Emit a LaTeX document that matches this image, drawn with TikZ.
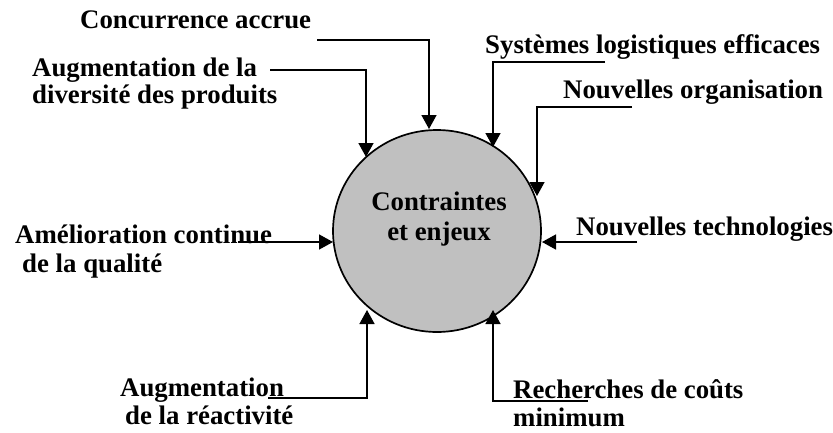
\documentclass[tikz,border=0pt]{standalone}
\usepackage{fontspec}
\setmainfont{Liberation Serif}
\usetikzlibrary{arrows.meta,shapes.geometric}
\definecolor{disc}{HTML}{C0C0C0}
\begin{document}
\begin{tikzpicture}[x=1pt,y=-1pt,
  lbl/.style={font=\fontsize{26.8}{28}\selectfont\bfseries, inner sep=0pt, anchor=base west},
  mid/.style={lbl, anchor=base},
  conn/.style={line width=1.5pt, -{Triangle[width=15pt,length=14pt]}}]
\useasboundingbox (0,0) rectangle (833,432);
% central disc
\node[ellipse, draw, line width=1.7pt, fill=disc, minimum width=208pt, minimum height=202pt, inner sep=0pt] (c) at (437,231) {};
\node[mid] (ct1) at (439,210) {Contraintes};
\node[mid] (ct2) at (439,240) {et enjeux};
% labels
\node[lbl] (l1) at (80,28) {Concurrence accrue};
\node[lbl] (l2a) at (32,76) {Augmentation de la};
\node[lbl] (l2b) at (32,103) {diversité des produits};
\node[lbl] (l3) at (485,53) {Systèmes logistiques efficaces};
\node[lbl] (l4) at (563,98) {Nouvelles organisation};
\node[lbl] (l5a) at (15,243) {Amélioration continue};
\node[lbl] (l5b) at (22,272) {de la qualité};
\node[lbl] (l6a) at (120,396) {Augmentation};
\node[lbl] (l6b) at (125,424) {de la réactivité};
\node[lbl] (l7) at (576,235) {Nouvelles technologies};
\node[lbl] (l8a) at (513,398) {Recherches de coûts};
\node[lbl] (l8b) at (513,426) {minimum};
% connector ends
\coordinate (s1) at (317,40);  \coordinate (t1) at (429,129);
\coordinate (s2) at (270,70);  \coordinate (t2) at (366,157);
\coordinate (s3) at (605,62);  \coordinate (t3) at (493,147);
\coordinate (s4) at (632,107); \coordinate (t4) at (537,196);
\coordinate (s5) at (238,242); \coordinate (t5) at (333,242);
\coordinate (s6) at (268,398); \coordinate (t6) at (367,310);
\coordinate (s7) at (637,242); \coordinate (t7) at (542,242);
\coordinate (s8) at (588,401); \coordinate (t8) at (493,310);
% connectors
\draw[conn] (s1) -| (t1);
\draw[conn] (s2) -| (t2);
\draw[conn] (s3) -| (t3);
\draw[conn] (s4) -| (t4);
\draw[conn] (s5) -- (t5);
\draw[conn] (s6) -| (t6);
\draw[conn] (s7) -- (t7);
\draw[conn] (s8) -| (t8);
\end{tikzpicture}
\end{document}
